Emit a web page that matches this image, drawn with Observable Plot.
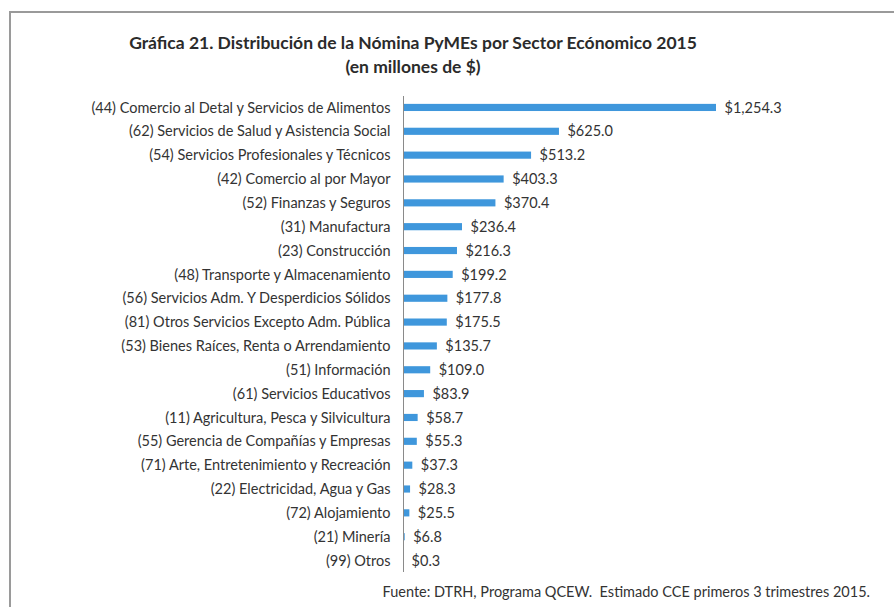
<!DOCTYPE html>
<html>
<head>
<meta charset="utf-8">
<script src="https://cdn.jsdelivr.net/npm/d3@7"></script>
<script src="https://cdn.jsdelivr.net/npm/@observablehq/plot@0.6"></script>
<style>
  html, body { margin: 0; padding: 0; background: #fff; }
  #wrap { position: relative; width: 894px; height: 607px; overflow: hidden; font-family: Lato, "Open Sans", sans-serif; color: #333; }
  #frame { position: absolute; left: 9px; top: 11px; width: 900px; height: 620px; border-top: 2px solid #9a9a9a; border-left: 2px solid #9a9a9a; }
  .title { position: absolute; left: 0; width: 826px; text-align: center; font-weight: bold; font-size: 17.5px; color: #2b2b2b; }
  #caption { position: absolute; right: 24px; top: 583px; font-size: 14.5px; color: #333; white-space: nowrap; }
  #chart { position: absolute; left: 0; top: 0; }
</style>
</head>
<body>
<div id="wrap">
  <div id="frame"></div>
  <div id="chart"></div>
  <div class="title" style="top:32px">Gráfica 21. Distribución de la Nómina PyMEs por Sector Ecónomico 2015</div>
  <div class="title" style="top:56px">(en millones de $)</div>
  <div id="caption">Fuente: DTRH, Programa QCEW.&nbsp; Estimado CCE primeros 3 trimestres 2015.</div>
</div>
<script>
const sectors = [
  "(44) Comercio al Detal y Servicios de Alimentos",
  "(62) Servicios de Salud y Asistencia Social",
  "(54) Servicios Profesionales y Técnicos",
  "(42) Comercio al por Mayor",
  "(52) Finanzas y Seguros",
  "(31) Manufactura",
  "(23) Construcción",
  "(48) Transporte y Almacenamiento",
  "(56) Servicios Adm. Y Desperdicios Sólidos",
  "(81) Otros Servicios Excepto Adm. Pública",
  "(53) Bienes Raíces, Renta o Arrendamiento",
  "(51) Información",
  "(61) Servicios Educativos",
  "(11) Agricultura, Pesca y Silvicultura",
  "(55) Gerencia de Compañías y Empresas",
  "(71) Arte, Entretenimiento y Recreación",
  "(22) Electricidad, Agua y Gas",
  "(72) Alojamiento",
  "(21) Minería",
  "(99) Otros"
];
const payroll = [1254.3, 625.0, 513.2, 403.3, 370.4, 236.4, 216.3, 199.2, 177.8, 175.5, 135.7, 109.0, 83.9, 58.7, 55.3, 37.3, 28.3, 25.5, 6.8, 0.3];

const data = sectors.map((s, i) => ({sector: s, value: payroll[i]}));
const fmt = d3.format("$,.1f");

const chart = Plot.plot({
  width: 894,
  height: 607,
  marginLeft: 403,
  marginRight: 178,
  marginTop: 96,
  marginBottom: 35,
  style: {fontFamily: "Lato, 'Open Sans', sans-serif", fontSize: "14.5px", color: "#333", background: "transparent"},
  x: {domain: [0, 1254.3], axis: null},
  y: {domain: sectors, round: false, paddingInner: 0.7, paddingOuter: 0.33, label: null, tickSize: 0, tickPadding: 13},
  marks: [
    Plot.barX(data, {x: "value", y: "sector", fill: "#3f97dc"}),
    Plot.ruleX([0], {stroke: "#8a8a8a", strokeWidth: 1}),
    Plot.text(data, {x: "value", y: "sector", text: d => fmt(d.value), textAnchor: "start", dx: 8, fill: "#333", fontSize: 14.5})
  ]
});
document.getElementById("chart").appendChild(chart);
</script>
</body>
</html>
